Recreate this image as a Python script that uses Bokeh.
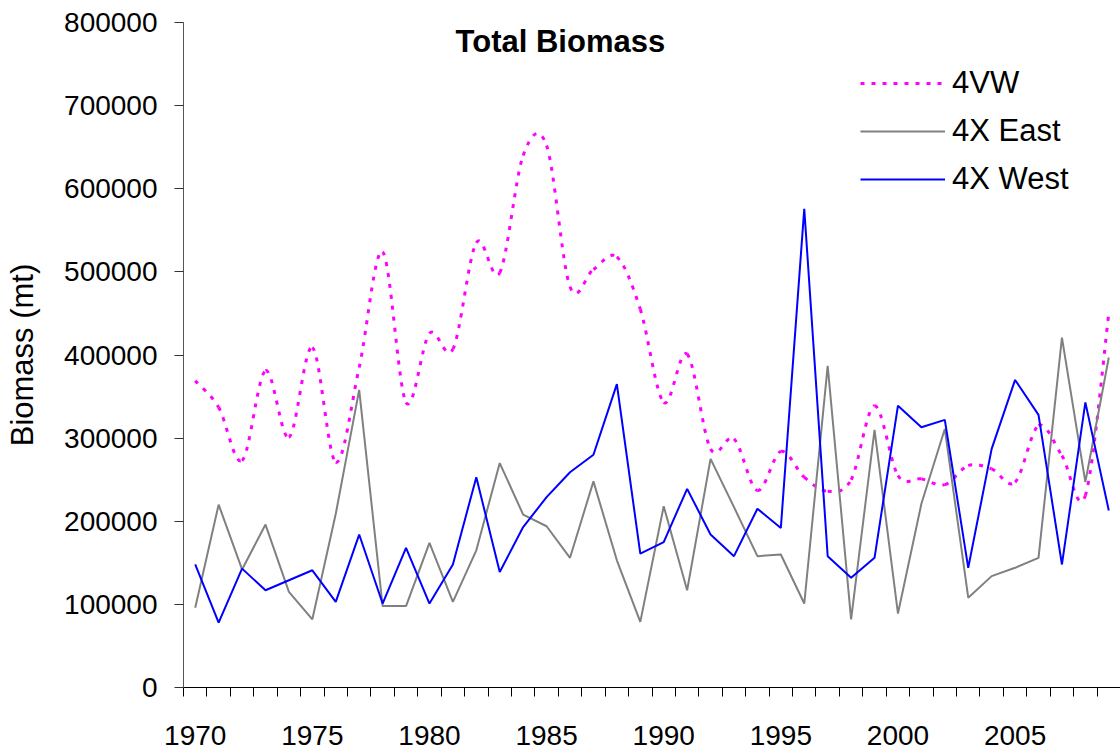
from bokeh.plotting import figure
from bokeh.models import (Range1d, FixedTicker, NumeralTickFormatter, Legend,
                          LegendItem, Label, ColumnDataSource)
from bokeh.embed import file_html
from bokeh.resources import INLINE

# ---- data ----
years = list(range(1970, 2010))

vw_4VW = [369000, 337000, 273000, 381000, 301000, 409000, 271000, 385000, 524000, 343000,
          426000, 407000, 535000, 499000, 640000, 652000, 482000, 503000, 518000, 455000,
          343000, 401000, 287000, 299000, 237000, 284000, 253000, 236000, 250000, 339000,
          255000, 251000, 244000, 267000, 263000, 247000, 315000, 279000, 231000, 450000]

east_4X = [96000, 220000, 142000, 196000, 115000, 82000, 209000, 358000, 98000, 98000,
           174000, 103000, 165000, 270000, 208000, 194000, 156000, 248000, 153000, 79000,
           218000, 117000, 275000, 217000, 158000, 160000, 101000, 387000, 82000, 310000,
           89000, 221000, 311000, 108000, 134000, 144000, 156000, 421000, 247000, 397000]

west_4X = [148000, 78000, 143000, 117000, 129000, 141000, 103000, 184000, 101000, 168000,
           101000, 148000, 253000, 139000, 193000, 229000, 259000, 280000, 365000, 161000,
           175000, 239000, 184000, 158000, 215000, 192000, 576000, 158000, 132000, 156000,
           339000, 313000, 322000, 144000, 287000, 370000, 328000, 148000, 343000, 213000]

series_names = ["4VW", "4X East", "4X West"]
x_tick_labels = [1970, 1975, 1980, 1985, 1990, 1995, 2000, 2005]
y_ticks = [0, 100000, 200000, 300000, 400000, 500000, 600000, 700000, 800000]
title_text = "Total Biomass"
y_title = "Biomass (mt)"

FONT = "Liberation Sans"


def smooth_segments(xs, ys):
    """Bezier segments (Excel-like smoothed line) through the data points."""
    n = len(xs)
    d = dict(x0=[], y0=[], x1=[], y1=[], cx0=[], cy0=[], cx1=[], cy1=[])
    for i in range(n - 1):
        xp, yp = (xs[i - 1], ys[i - 1]) if i > 0 else (xs[i], ys[i])
        xn, yn = (xs[i + 2], ys[i + 2]) if i + 2 < n else (xs[i + 1], ys[i + 1])
        d["x0"].append(xs[i]); d["y0"].append(ys[i])
        d["x1"].append(xs[i + 1]); d["y1"].append(ys[i + 1])
        d["cx0"].append(xs[i] + (xs[i + 1] - xp) / 6.0)
        d["cy0"].append(ys[i] + (ys[i + 1] - yp) / 6.0)
        d["cx1"].append(xs[i + 1] - (xn - xs[i]) / 6.0)
        d["cy1"].append(ys[i + 1] - (yn - ys[i]) / 6.0)
    return d


p = figure(width=1120, height=749, output_backend="svg", toolbar_location=None,
           x_range=Range1d(years[0] - 0.5, years[-1] + 0.5), y_range=Range1d(0, 800000),
           min_border_left=183, min_border_right=0, min_border_top=22,
           min_border_bottom=62)
p.outline_line_color = None
p.grid.visible = False
p.background_fill_color = "white"
p.border_fill_color = "white"

src_vw = ColumnDataSource(smooth_segments(years, vw_4VW))
r_vw = p.bezier(x0="x0", y0="y0", x1="x1", y1="y1", cx0="cx0", cy0="cy0",
                cx1="cx1", cy1="cy1", source=src_vw,
                line_color="#FF00FF", line_width=3, line_dash="4 7")
r_east = p.line(years, east_4X, line_color="#808080", line_width=2)
r_west = p.line(years, west_4X, line_color="#0000FF", line_width=2)

legend = Legend(items=[LegendItem(label=series_names[0], renderers=[r_vw]),
                       LegendItem(label=series_names[1], renderers=[r_east]),
                       LegendItem(label=series_names[2], renderers=[r_west])],
                location=(677, 484), orientation="vertical",
                glyph_width=85, glyph_height=48, label_height=48,
                label_standoff=7, spacing=0, padding=0, margin=0,
                border_line_color=None, background_fill_alpha=0,
                label_text_font=FONT, label_text_font_size="31px",
                label_text_color="black")
p.add_layout(legend)

p.add_layout(Label(x=1985.59, y=777000, text=title_text, text_align="center",
                   text_baseline="middle", text_font=FONT, text_font_style="bold",
                   text_font_size="31px", text_color="black"))

# x axis: category boundaries as (minor) ticks, labels every 5 years
xa = p.xaxis[0]
xa.ticker = FixedTicker(ticks=x_tick_labels,
                        minor_ticks=[y - 0.5 for y in years] + [years[-1] + 0.5])
xa.major_tick_line_color = None
xa.major_tick_out = 0
xa.major_tick_in = 0
xa.minor_tick_in = 0
xa.minor_tick_out = 9
xa.minor_tick_line_color = "black"
xa.axis_line_color = "black"
xa.major_label_standoff = 29
xa.major_label_text_font = FONT
xa.major_label_text_font_size = "28px"
xa.major_label_text_color = "black"

ya = p.yaxis[0]
ya.ticker = FixedTicker(ticks=y_ticks)
ya.formatter = NumeralTickFormatter(format="0")
ya.major_tick_out = 9
ya.major_tick_in = 0
ya.major_tick_line_color = "#333333"
ya.minor_tick_line_color = None
ya.axis_line_color = "#555555"
ya.major_label_standoff = 17
ya.major_label_text_font = FONT
ya.major_label_text_font_size = "28px"
ya.major_label_text_color = "black"
ya.axis_label = y_title
ya.axis_label_text_font = FONT
ya.axis_label_text_font_size = "31px"
ya.axis_label_text_font_style = "normal"
ya.axis_label_text_color = "black"
ya.axis_label_standoff = 21

open("out.html", "w").write(file_html(p, INLINE))
